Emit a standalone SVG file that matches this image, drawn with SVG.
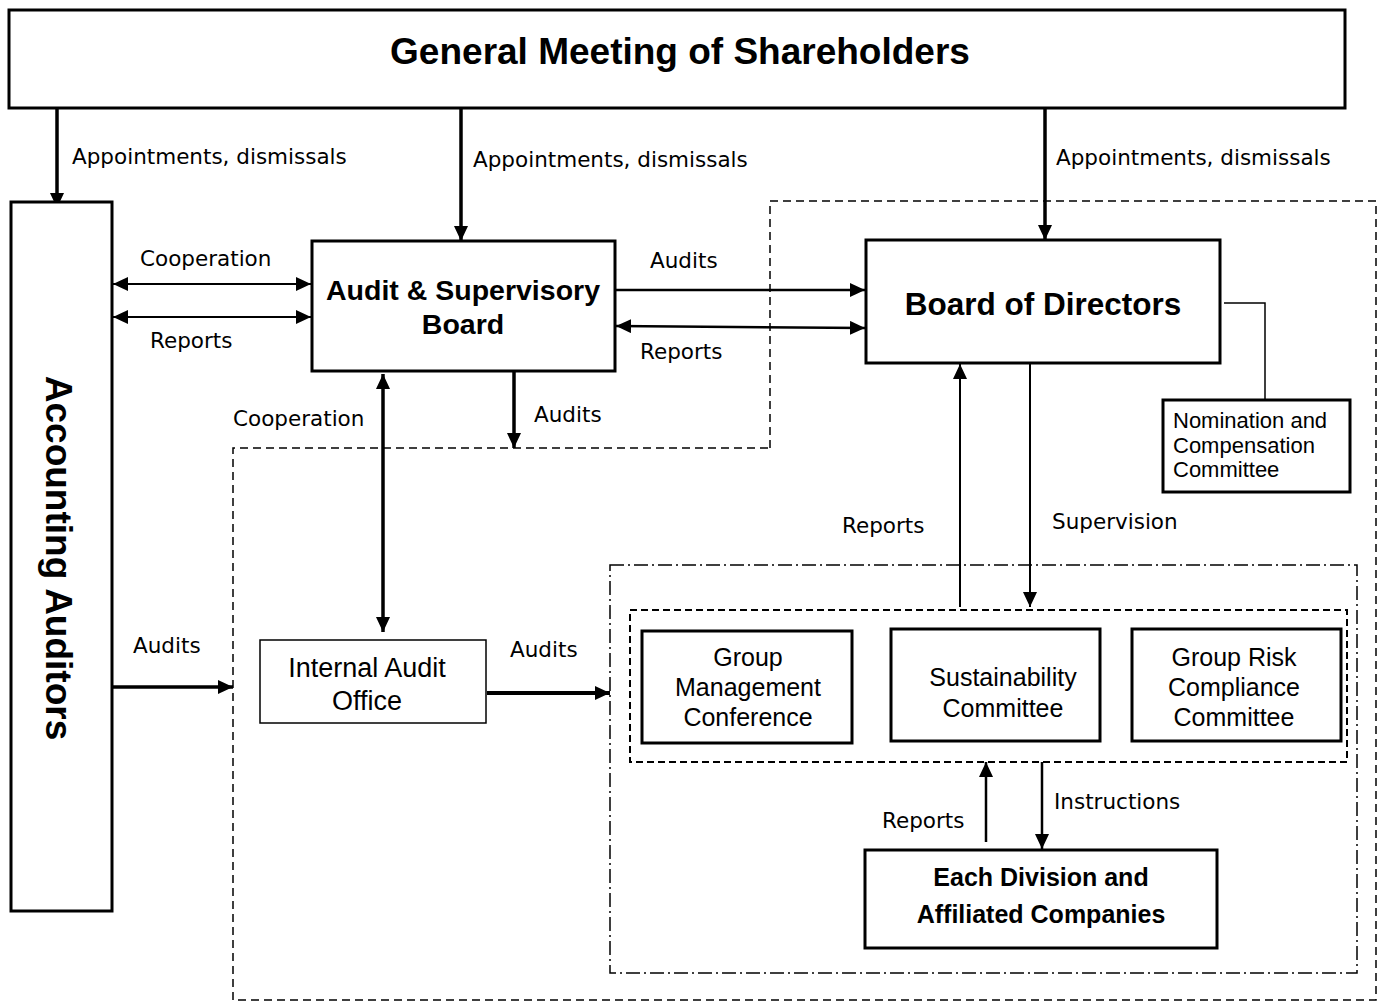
<svg xmlns="http://www.w3.org/2000/svg" width="1383" height="1003" viewBox="0 0 1383 1003">
<style>
.box{fill:#fff;stroke:#000;stroke-width:3}
.thin{fill:#fff;stroke:#000;stroke-width:1.5}
.title{font-family:"Liberation Sans",Arial,sans-serif;font-weight:bold;fill:#000;text-anchor:middle}
.btxt{font-family:"Liberation Sans",Arial,sans-serif;fill:#000;text-anchor:middle}
.ltxt{font-family:"Liberation Sans",Arial,sans-serif;fill:#000;font-size:22px}
.lbl{font-family:"DejaVu Sans",sans-serif;font-size:21.5px;fill:#000}
.c{fill:none;stroke:#000}
.dash{fill:none;stroke:#000;stroke-width:1.5;stroke-dasharray:8,5}
.dashdot{fill:none;stroke:#000;stroke-width:1.5;stroke-dasharray:14,4,2,4}
.dash2{fill:none;stroke:#000;stroke-width:2;stroke-dasharray:7,4}
</style>
<defs>
<marker id="ah" markerUnits="userSpaceOnUse" markerWidth="18" markerHeight="16" refX="15" refY="7" orient="auto-start-reverse">
<path d="M0,0 L15,7 L0,14 z" fill="#000"/>
</marker>
</defs>
<rect width="1383" height="1003" fill="#fff"/>

<g id="outlines">
<path class="dash" d="M770,448 L770,201 L1376,201 L1376,1000 L233,1000 L233,448 Z"/>
<rect class="dashdot" x="610" y="565" width="747" height="408"/>
<rect class="dash2" x="630" y="610" width="717" height="152"/>
</g>

<g id="connectors">
<line class="c" stroke-width="3.5" x1="57" y1="108" x2="57" y2="208" marker-end="url(#ah)"/>
<line class="c" stroke-width="3.5" x1="461" y1="108" x2="461" y2="241" marker-end="url(#ah)"/>
<line class="c" stroke-width="3.5" x1="1045" y1="108" x2="1045" y2="240" marker-end="url(#ah)"/>
<line class="c" stroke-width="2" x1="113" y1="284" x2="311" y2="284" marker-start="url(#ah)" marker-end="url(#ah)"/>
<line class="c" stroke-width="2" x1="113" y1="317" x2="311" y2="317" marker-start="url(#ah)" marker-end="url(#ah)"/>
<line class="c" stroke-width="2.5" x1="616" y1="290" x2="865" y2="290" marker-end="url(#ah)"/>
<line class="c" stroke-width="2.5" x1="616" y1="326" x2="865" y2="328" marker-start="url(#ah)" marker-end="url(#ah)"/>
<line class="c" stroke-width="3.5" x1="514" y1="372" x2="514" y2="448" marker-end="url(#ah)"/>
<line class="c" stroke-width="3.5" x1="383" y1="374" x2="383" y2="632" marker-start="url(#ah)" marker-end="url(#ah)"/>
<line class="c" stroke-width="3.5" x1="113" y1="687" x2="233" y2="687" marker-end="url(#ah)"/>
<line class="c" stroke-width="4" x1="487" y1="693" x2="610" y2="693" marker-end="url(#ah)"/>
<polyline class="c" stroke-width="1.5" points="1224,303 1265,303 1265,400"/>
<line class="c" stroke-width="2" x1="960" y1="607" x2="960" y2="364" marker-end="url(#ah)"/>
<line class="c" stroke-width="2" x1="1030" y1="364" x2="1030" y2="607" marker-end="url(#ah)"/>
<line class="c" stroke-width="2.5" x1="986" y1="842" x2="986" y2="762" marker-end="url(#ah)"/>
<line class="c" stroke-width="2.5" x1="1042" y1="762" x2="1042" y2="849" marker-end="url(#ah)"/>
</g>

<g id="labels">
<text class="lbl" x="72" y="164">Appointments, dismissals</text>
<text class="lbl" x="473" y="167">Appointments, dismissals</text>
<text class="lbl" x="1056" y="165">Appointments, dismissals</text>
<text class="lbl" x="140" y="266">Cooperation</text>
<text class="lbl" x="150" y="348">Reports</text>
<text class="lbl" x="650" y="268">Audits</text>
<text class="lbl" x="640" y="359">Reports</text>
<text class="lbl" x="534" y="422">Audits</text>
<text class="lbl" x="233" y="426">Cooperation</text>
<text class="lbl" x="133" y="653">Audits</text>
<text class="lbl" x="510" y="657">Audits</text>
<text class="lbl" x="842" y="533">Reports</text>
<text class="lbl" x="1052" y="529">Supervision</text>
<text class="lbl" x="882" y="828">Reports</text>
<text class="lbl" x="1054" y="809">Instructions</text>
</g>

<g id="gms">
<rect class="box" x="9" y="10" width="1336" height="98"/>
<text class="title" x="680" y="64" font-size="37">General Meeting of Shareholders</text>
</g>

<g id="accounting-auditors">
<rect class="box" x="11" y="202" width="101" height="709"/>
<text class="title" font-size="37" transform="translate(59,558) rotate(90)" x="0" y="13">Accounting Auditors</text>
</g>

<g id="asb">
<rect class="box" x="312" y="241" width="303" height="130"/>
<text class="title" x="463" y="300" font-size="28.5">Audit &amp; Supervisory</text>
<text class="title" x="463" y="334" font-size="28.5">Board</text>
</g>

<g id="bod">
<rect class="box" x="866" y="240" width="354" height="123"/>
<text class="title" x="1043" y="315" font-size="31.5">Board of Directors</text>
</g>

<g id="nomination">
<rect class="box" x="1163" y="400" width="187" height="92"/>
<text class="ltxt" x="1173" y="428">Nomination and</text>
<text class="ltxt" x="1173" y="453">Compensation</text>
<text class="ltxt" x="1173" y="477">Committee</text>
</g>

<g id="internal-audit">
<rect class="thin" x="260" y="640" width="226" height="83"/>
<text class="btxt" x="367" y="677" font-size="27">Internal Audit</text>
<text class="btxt" x="367" y="710" font-size="27">Office</text>
</g>

<g id="gmc">
<rect class="box" x="642" y="631" width="210" height="112"/>
<text class="btxt" x="748" y="666" font-size="25">Group</text>
<text class="btxt" x="748" y="696" font-size="25">Management</text>
<text class="btxt" x="748" y="726" font-size="25">Conference</text>
</g>

<g id="sustainability">
<rect class="box" x="891" y="629" width="209" height="112"/>
<text class="btxt" x="1003" y="686" font-size="25">Sustainability</text>
<text class="btxt" x="1003" y="717" font-size="25">Committee</text>
</g>

<g id="risk">
<rect class="box" x="1132" y="629" width="209" height="112"/>
<text class="btxt" x="1234" y="666" font-size="25">Group Risk</text>
<text class="btxt" x="1234" y="696" font-size="25">Compliance</text>
<text class="btxt" x="1234" y="726" font-size="25">Committee</text>
</g>

<g id="divisions">
<rect class="box" x="865" y="850" width="352" height="98"/>
<text class="title" x="1041" y="886" font-size="25">Each Division and</text>
<text class="title" x="1041" y="923" font-size="25">Affiliated Companies</text>
</g>
</svg>
